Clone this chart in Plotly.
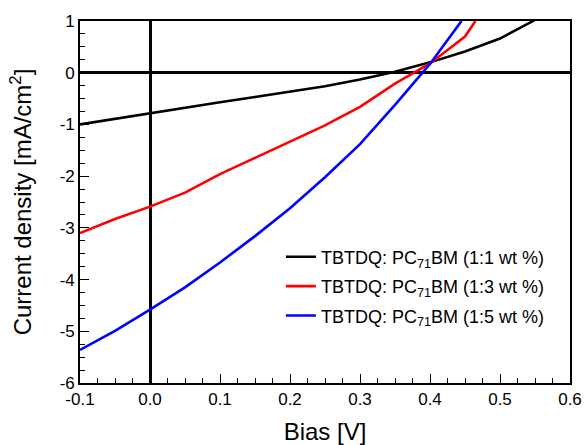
import plotly.graph_objects as go

# bias [V] and current density [mA/cm2]
bias = [-0.1, -0.05, 0.0, 0.05, 0.1, 0.15, 0.2, 0.25, 0.3, 0.35, 0.4, 0.45, 0.5, 0.55]
j_11 = [-1.0, -0.89, -0.78, -0.68, -0.57, -0.47, -0.37, -0.26, -0.13, 0.02, 0.2, 0.41, 0.66, 1.02]

bias_13 = [-0.1, -0.05, 0.0, 0.05, 0.1, 0.15, 0.2, 0.25, 0.3, 0.35, 0.4, 0.45, 0.465]
j_13 = [-3.1, -2.83, -2.59, -2.32, -1.96, -1.65, -1.34, -1.02, -0.66, -0.21, 0.18, 0.7, 1.0]

bias_15 = [-0.1, -0.05, 0.0, 0.05, 0.1, 0.15, 0.2, 0.25, 0.3, 0.35, 0.4, 0.445]
j_15 = [-5.36, -4.99, -4.58, -4.15, -3.67, -3.16, -2.62, -2.02, -1.38, -0.62, 0.17, 1.0]

names = [
    "TBTDQ: PC<sub>71</sub>BM (1:1 wt %)",
    "TBTDQ: PC<sub>71</sub>BM (1:3 wt %)",
    "TBTDQ: PC<sub>71</sub>BM (1:5 wt %)",
]
colors = ["#000000", "#ff0000", "#0000ff"]

x_ticks = [-0.1, 0.0, 0.1, 0.2, 0.3, 0.4, 0.5, 0.6]
x_labels = ["-0.1", "0.0", "0.1", "0.2", "0.3", "0.4", "0.5", "0.6"]
y_ticks = [-6, -5, -4, -3, -2, -1, 0, 1]
y_labels = ["-6", "-5", "-4", "-3", "-2", "-1", "0", "1"]

FONT = "Liberation Sans, Arial, sans-serif"

fig = go.Figure()
for i, (x, y, n, c) in enumerate(zip([bias, bias_13, bias_15], [j_11, j_13, j_15], names, colors)):
    fig.add_trace(go.Scatter(x=x, y=y, mode="lines", name=n, legendgroup=f"g{i}",
                             line=dict(color=c, width=2.6)))

axis_common = dict(
    showline=True, linecolor="black", linewidth=1.6, mirror=True,
    ticks="inside", ticklen=9, tickwidth=1.4, tickcolor="black",
    showgrid=False, zeroline=True, zerolinecolor="black", zerolinewidth=3,
    tickfont=dict(size=17, color="black", family=FONT),
    automargin=False,
)

fig.update_layout(
    width=584, height=445,
    paper_bgcolor="white", plot_bgcolor="white",
    margin=dict(l=80, r=14, t=21, b=62),
    font=dict(family=FONT, color="black"),
    xaxis=dict(**axis_common, range=[-0.1, 0.6], tickvals=x_ticks, ticktext=x_labels,
               minor=dict(dtick=0.025, ticks="inside", ticklen=5, tickwidth=1.2, tickcolor="black"),
               title=dict(text="Bias [V]", font=dict(size=24), standoff=21)),
    yaxis=dict(**axis_common, range=[-6, 1], tickvals=y_ticks, ticktext=y_labels,
               minor=dict(dtick=0.25, ticks="inside", ticklen=5, tickwidth=1.2, tickcolor="black"),
               title=dict(text="Current density [mA/cm<sup>2</sup>]", font=dict(size=24), standoff=21)),
    legend=dict(x=0.41, y=0.399, xanchor="left", yanchor="top",
                bgcolor="rgba(0,0,0,0)", font=dict(size=18, color="black"),
                tracegroupgap=3),
    showlegend=True,
)

# drop the browser's default body margin so the figure sits at the page corner
fig.write_html("out.html", config={"displayModeBar": False},
               post_script="document.body.style.margin='0';")
